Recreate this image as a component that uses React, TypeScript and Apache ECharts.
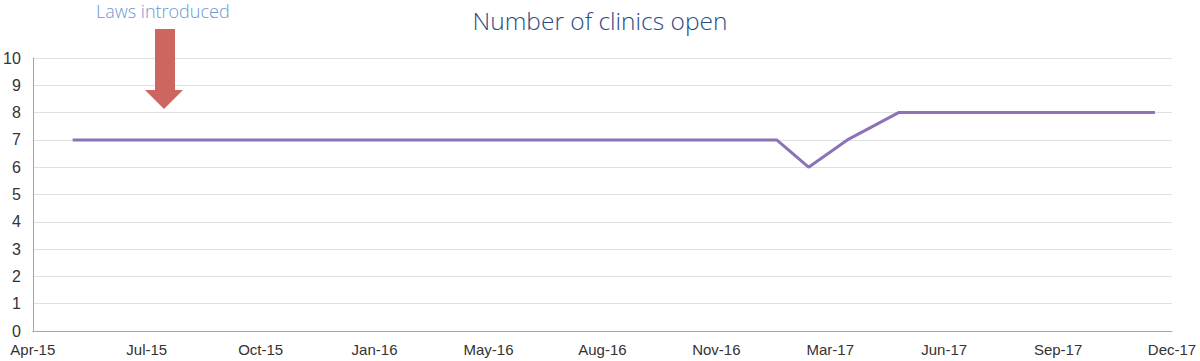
import React, { useEffect, useRef } from "react";
import * as echarts from "echarts";

const AXIS_START = "2015-04-01";
const AXIS_SPAN_DAYS = 1000;
const AXIS_STEP_DAYS = 100;
const yTicks = [0, 10, 1]; // min, max, interval

const dates = ["2015-05-06", "2017-01-13", "2017-02-10", "2017-03-16", "2017-04-30", "2017-12-11"];
const clinicsOpen = [7, 7, 6, 7, 8, 8];

const MONTHS = ["Jan", "Feb", "Mar", "Apr", "May", "Jun", "Jul", "Aug", "Sep", "Oct", "Nov", "Dec"];
const DAY = 86400000;
const startMs = Date.parse(AXIS_START + "T00:00:00Z");
const toDay = (d: string) => (Date.parse(d + "T00:00:00Z") - startMs) / DAY;
const fmt = (v: number) => {
  const dt = new Date(startMs + v * DAY);
  return MONTHS[dt.getUTCMonth()] + "-" + String(dt.getUTCFullYear()).slice(2);
};

export default function App() {
  const ref = useRef<HTMLDivElement>(null);
  useEffect(() => {
    if (!ref.current) return;
    const chart = echarts.init(ref.current, null, { renderer: "svg" });
    const font = "'Liberation Sans', Arial, sans-serif";
    const light = "'Open Sans', sans-serif";
    chart.setOption({
      animation: false,
      backgroundColor: "#ffffff",
      title: {
        text: "Number of clinics open",
        left: "center",
        top: 3,
        textStyle: { color: "#2b4b85", fontSize: 24.5, fontWeight: 300, fontFamily: light },
      },
      grid: { left: 30, right: 28, top: 58, bottom: 30, containLabel: false },
      xAxis: {
        type: "value",
        min: 0,
        max: AXIS_SPAN_DAYS,
        interval: AXIS_STEP_DAYS,
        axisLine: { show: true, lineStyle: { color: "#a6a6a6", width: 1 } },
        axisTick: { show: false },
        splitLine: { show: false },
        axisLabel: { formatter: fmt, color: "#333333", fontSize: 15, fontFamily: font, margin: 11 },
      },
      yAxis: {
        type: "value",
        min: yTicks[0],
        max: yTicks[1],
        interval: yTicks[2],
        axisLine: { show: true, lineStyle: { color: "#a6a6a6", width: 1 } },
        axisTick: { show: false },
        splitLine: { show: true, lineStyle: { color: "#e0e0e0", width: 1 } },
        axisLabel: { color: "#333333", fontSize: 16, fontFamily: font, margin: 12 },
      },
      series: [
        {
          type: "line",
          data: dates.map((d, i) => [toDay(d), clinicsOpen[i]]),
          symbol: "none",
          lineStyle: { color: "#8d73b6", width: 3 },
        },
      ],
      graphic: [
        {
          type: "text",
          left: 96,
          top: 2,
          z: 100,
          style: { text: "Laws introduced", fill: "#6a98d2", fontSize: 18, fontFamily: light, fontWeight: 300 },
        },
        {
          type: "polygon",
          z: 100,
          shape: {
            points: [
              [155, 29], [175, 29], [175, 90], [183, 90], [164, 109], [145, 90], [155, 90],
            ],
          },
          style: { fill: "#cd6660" },
        },
      ],
    });
    return () => chart.dispose();
  }, []);
  return <div ref={ref} style={{ position: "absolute", left: 0, top: 0, width: 1200, height: 361 }} />;
}
